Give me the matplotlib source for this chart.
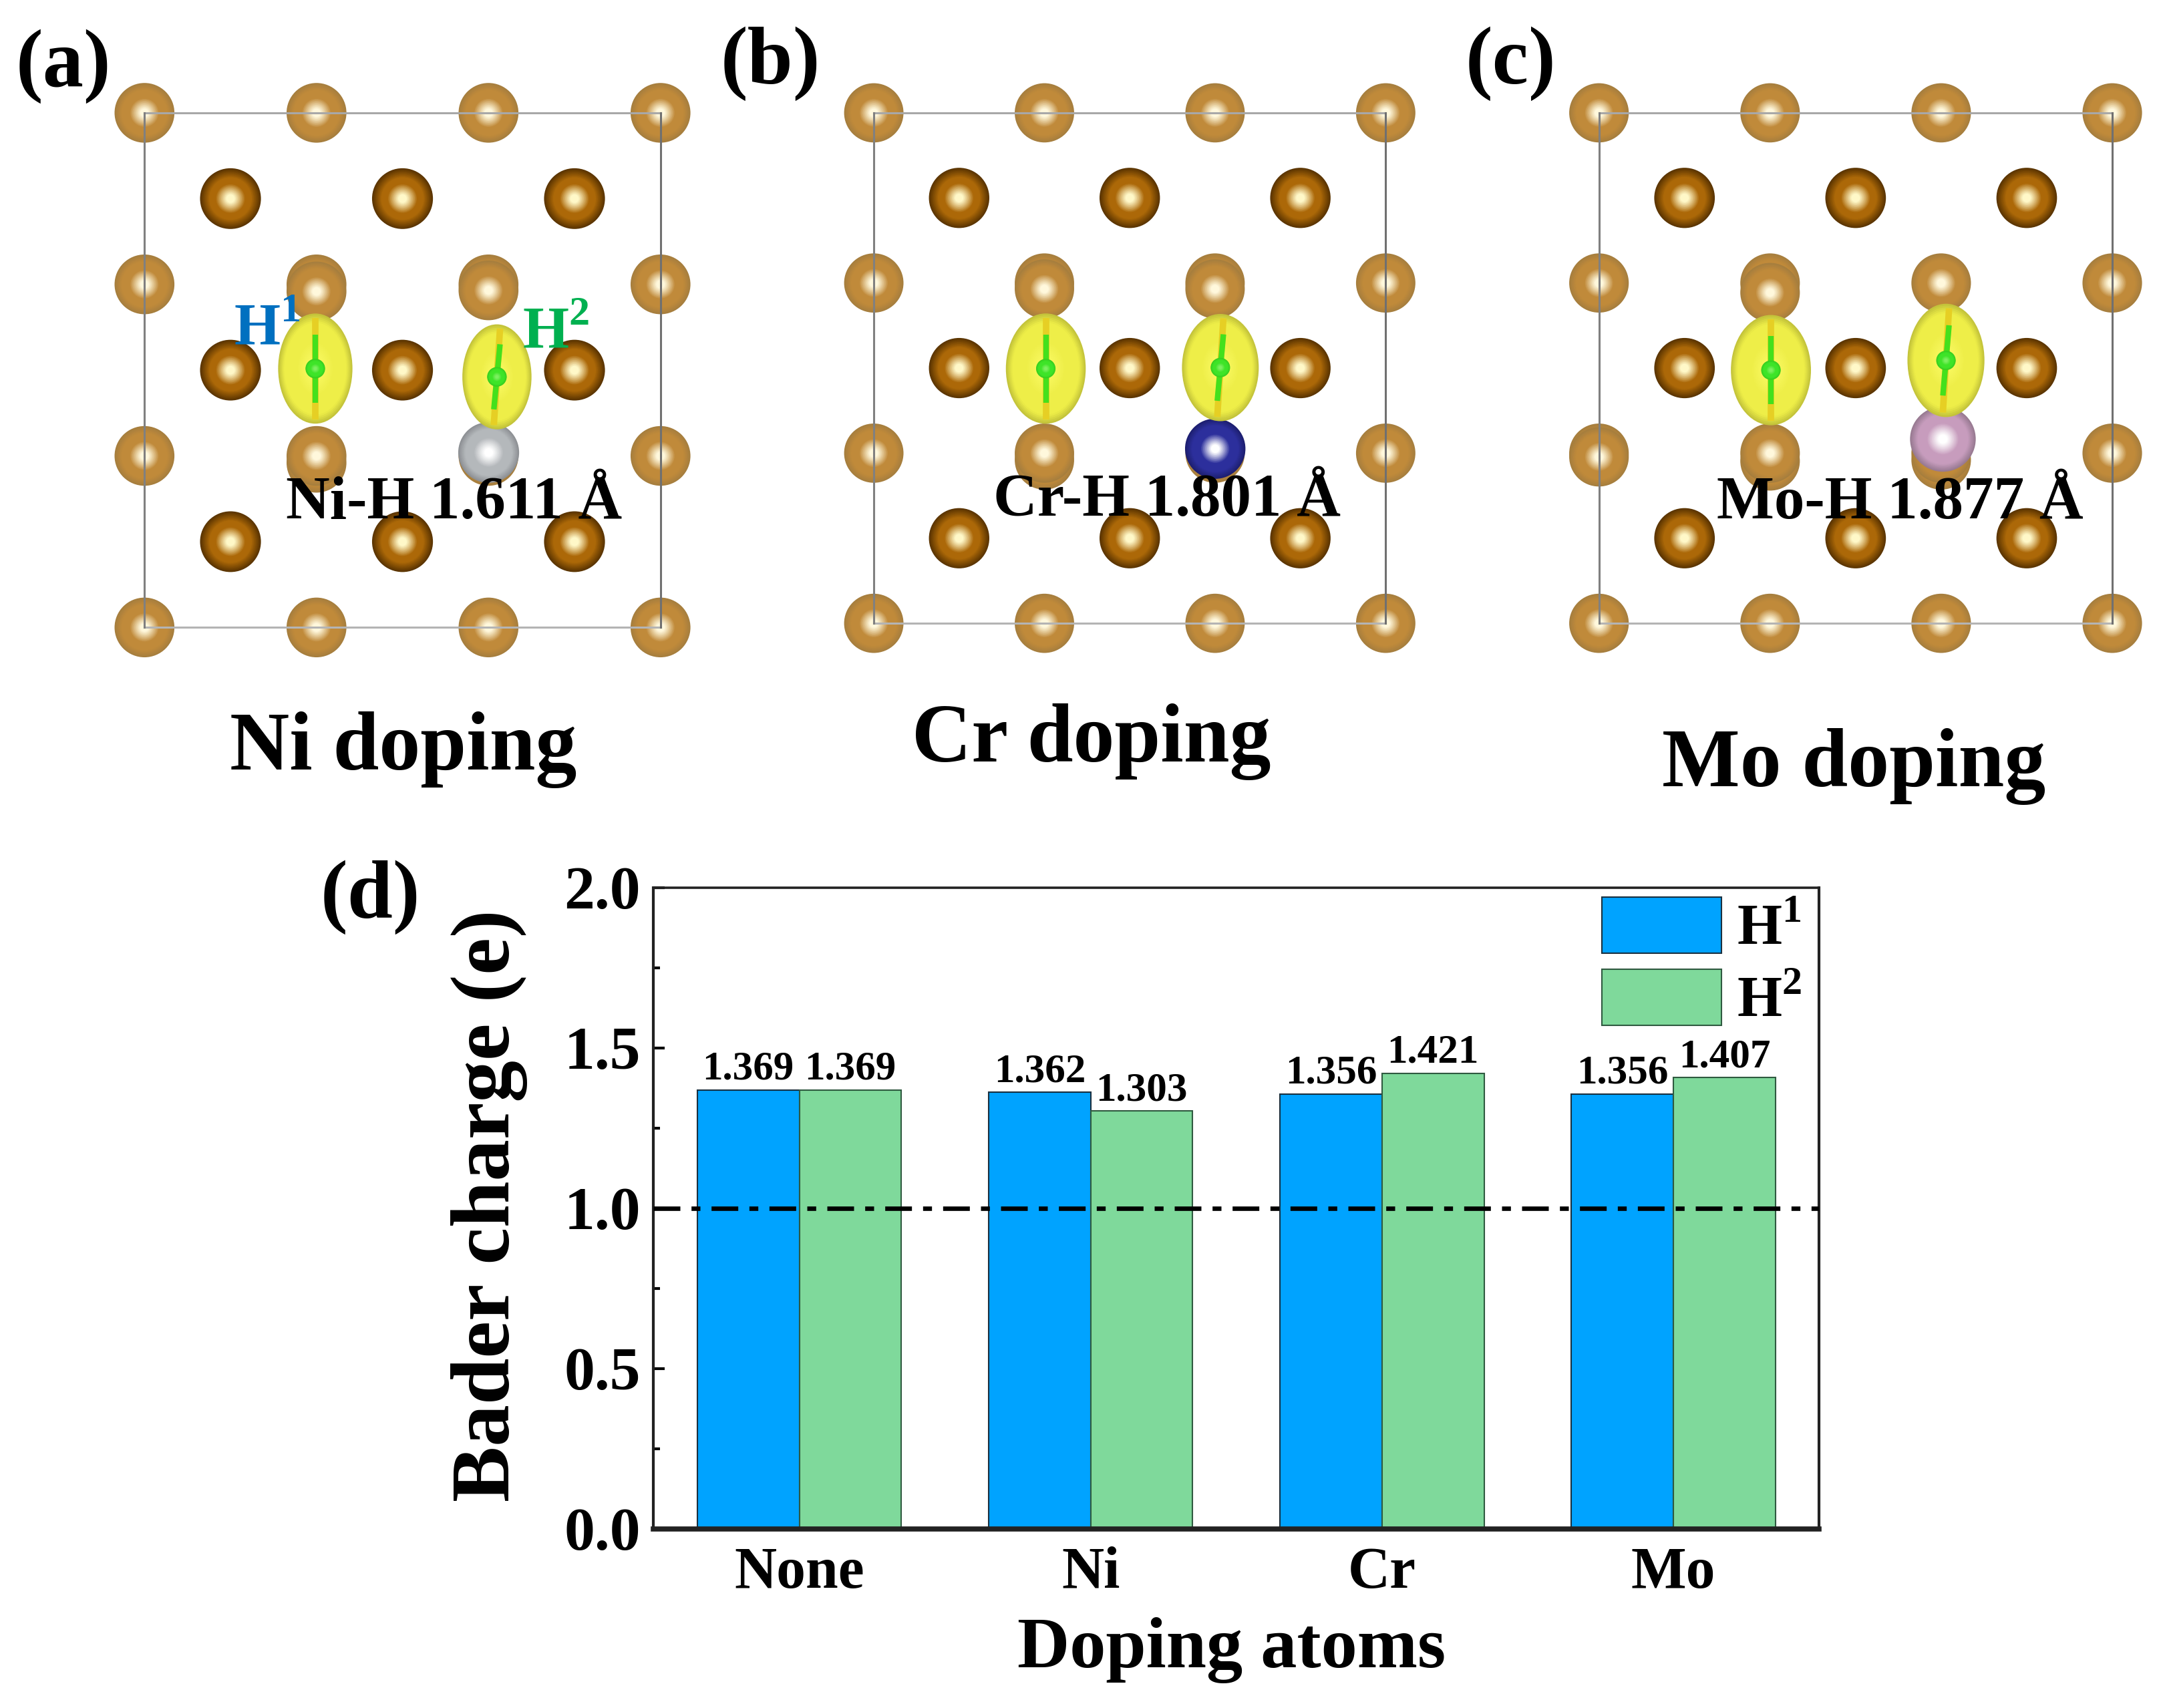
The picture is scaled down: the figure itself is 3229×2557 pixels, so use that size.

# Charge density structures and Bader charge bars
import numpy as np
import matplotlib
matplotlib.use('Agg')
import matplotlib.pyplot as plt
from matplotlib.patches import Ellipse
from matplotlib.colors import to_rgb

plt.rcParams['font.family'] = ['Liberation Serif', 'DejaVu Sans']
plt.rcParams['font.weight'] = 'bold'
plt.rcParams['axes.labelweight'] = 'bold'
plt.rcParams['mathtext.fontset'] = 'custom'
plt.rcParams['mathtext.bf'] = 'Liberation Serif:bold'
plt.rcParams['mathtext.rm'] = 'Liberation Serif'

# Data
dopants = ['None', 'Ni', 'Cr', 'Mo']
h1_charge = [1.369, 1.362, 1.356, 1.356]
h2_charge = [1.369, 1.303, 1.421, 1.407]
y_ticks = [0.0, 0.5, 1.0, 1.5, 2.0]
y_minor = [0.25, 0.75, 1.25, 1.75]

# lattice positions, fractions of the cell
light_grid = [0, 1/3, 2/3, 1]
dark_grid = [1/6, 1/2, 5/6]

panel_labels = ['(a)', '(b)', '(c)']
panel_names = ['Ni doping', 'Cr doping', 'Mo doping']
bond_labels = ['Ni-H 1.611 Å', 'Cr-H 1.801 Å', 'Mo-H 1.877 Å']
h1_lobe = [(0.331, 0.497, 0.072, 0.107), (0.336, 0.501, 0.078, 0.108), (0.335, 0.504, 0.078, 0.108)]
h2_lobe = [(0.683, 0.513, 0.067, 0.102), (0.677, 0.499, 0.075, 0.105), (0.676, 0.485, 0.075, 0.111)]
dopant_site = [(0.667, 0.660, 0.059), (0.667, 0.658, 0.059), (0.670, 0.639, 0.064)]
dopant_color = ['#b4b8bb', '#2c2f9c', '#c79cbd']
dopant_edge = ['#8d9094', '#1d1f70', '#987a92']
front_atoms = [[(1/3, 0.347), (2/3, 0.345)],
               [(1/3, 0.345), (2/3, 0.345)],
               [(1/3, 0.352), (0, 0.674)]]
back_atoms = [[(1/3, 0.680)], [(1/3, 0.680)], [(1/3, 0.682), (2/3, 0.680)]]
panel_frames = [(105, 82, 480, 456), (635, 82, 1007, 453), (1162, 82, 1535, 453)]

W, H = 3230, 2557
S = W / 1568

fig = plt.figure(figsize=(W / 100, H / 100), dpi=100, facecolor='white')


def new_axes(x0, y0, x1, y1):
    return fig.add_axes([x0 * S / W, 1 - y1 * S / H, (x1 - x0) * S / W, (y1 - y0) * S / H])


def put(x, y, s, size, **kw):
    kw.setdefault('ha', 'center')
    fig.text(x * S / W, 1 - y * S / H, s, fontsize=size, va='center', **kw)


def shaded(ax, x, y, rx, ry, edge, base, hot, z, rim=0.78, glow=0.5):
    # sphere look: stacked rings going from rim to highlight
    edge, base, hot = to_rgb(edge), to_rgb(base), to_rgb(hot)
    for t in np.linspace(1, 0.04, 30):
        if t > rim:
            c = np.interp(t, [rim, 1], [0, 1])
            col = [b + (e - b) * c for e, b in zip(edge, base)]
        elif t > glow:
            col = base
        else:
            c = np.interp(t, [0.14, glow], [0, 1]) ** 1.1
            col = [h + (b - h) * c for h, b in zip(hot, base)]
        ax.add_patch(Ellipse((x, y), 2 * rx * t, 2 * ry * t, fc=col, ec='none', zorder=z, clip_on=False))


def light(ax, x, y, z=2):
    shaded(ax, x, y, 0.058, 0.058, '#a67e3e', '#c08a3a', '#fff8dc', z)


for i in range(3):
    ax = new_axes(*panel_frames[i])
    ax.set_xlim(0, 1)
    ax.set_ylim(1, 0)
    ax.axis('off')

    for b in back_atoms[i]:
        light(ax, b[0], b[1], z=1)
    for gx in light_grid:
        for gy in light_grid:
            light(ax, gx, gy)
    for gx in dark_grid:
        for gy in dark_grid:
            shaded(ax, gx, gy, 0.059, 0.059, '#5a3400', '#ac6808', '#fff8c8', 2, rim=0.7)
    for f in front_atoms[i]:
        light(ax, f[0], f[1], z=3)

    d = dopant_site[i]
    shaded(ax, d[0], d[1], d[2], d[2], dopant_edge[i], dopant_color[i], '#ffffff', 4)

    for lobe, tilt in zip((h1_lobe[i], h2_lobe[i]), (0.0, 0.006)):
        lx, ly, rx, ry = lobe
        shaded(ax, lx, ly, rx, ry, '#c4c43a', '#eeee48', '#f8f860', 5, rim=0.85)
        ax.plot([lx + tilt, lx - tilt], [ly - ry * 0.92, ly + ry * 0.92], color='#e6cf24', lw=7,
                solid_capstyle='butt', zorder=6, clip_on=False)
        ax.plot([lx + tilt, lx - tilt], [ly - ry * 0.62, ly + ry * 0.62], color='#44e01c', lw=6,
                solid_capstyle='butt', zorder=7, clip_on=False)
        shaded(ax, lx, ly, 0.019, 0.019, '#36cc20', '#3ee428', '#7cf060', 8)

    # cell outline
    ax.plot([0, 1], [0, 0], color='#a8a8a8', lw=2.2, zorder=9, clip_on=False)
    ax.plot([0, 1], [1, 1], color='#b4b4b4', lw=2.2, zorder=9, clip_on=False)
    ax.plot([0, 0], [0, 1], color='#808080', lw=2.2, zorder=9, clip_on=False)
    ax.plot([1, 1], [0, 1], color='#707070', lw=2.2, zorder=9, clip_on=False)

# text over the structures
label_pos = [(46, 48), (560, 46), (1098, 46)]
name_pos = [(293, 545), (793, 539), (1347, 557)]
bond_pos = [(330, 366), (848, 364), (1381, 366)]
for i in range(3):
    put(label_pos[i][0], label_pos[i][1], panel_labels[i], 88)
    put(name_pos[i][0], name_pos[i][1], panel_names[i], 89)
    put(bond_pos[i][0], bond_pos[i][1], bond_labels[i], 65.5, zorder=20)
put(194, 240, r'H$^{\mathbf{1}}$', 64, color='#0070c0', zorder=20)
put(404, 242, r'H$^{\mathbf{2}}$', 64, color='#00b050', zorder=20)
put(269, 652, '(d)', 88)

# bar chart
ax = new_axes(475, 645, 1322, 1111)
x = np.arange(1, len(dopants) + 1)
width = 0.35
bars1 = ax.bar(x - width / 2, h1_charge, width, color='#00a3ff', edgecolor='#1a3040', linewidth=1.5, label=r'H$^{\mathrm{1}}$')
bars2 = ax.bar(x + width / 2, h2_charge, width, color='#7fd99b', edgecolor='#2f5a40', linewidth=1.5, label=r'H$^{\mathrm{2}}$')
for bars, vals in ((bars1, h1_charge), (bars2, h2_charge)):
    for b, v in zip(bars, vals):
        ax.text(b.get_x() + b.get_width() / 2, v + 0.006, f'{v:.3f}', ha='center', va='bottom', fontsize=44)
ax.axhline(1.0, color='black', lw=4.8, linestyle=(0, (6, 2.5, 2, 2.5)), zorder=5)

ax.set_xlim(0.5, 4.5)
ax.set_ylim(0, 2)
ax.set_xticks(x)
ax.set_xticklabels(dopants)
ax.set_yticks(y_ticks)
ax.set_yticklabels([f'{t:.1f}' for t in y_ticks])
ax.set_yticks(y_minor, minor=True)
ax.tick_params(axis='x', length=0, labelsize=63, pad=19)
ax.tick_params(axis='y', which='major', direction='in', length=12, width=3, labelsize=66, pad=14)
ax.tick_params(axis='y', which='minor', direction='in', length=7, width=3)
for name, lw in (('left', 3), ('right', 3), ('top', 2.6), ('bottom', 5.5)):
    ax.spines[name].set_linewidth(lw)
    ax.spines[name].set_color('#222222')

ax.set_xlabel('Doping atoms', fontsize=78, va='center')
ax.xaxis.set_label_coords(0.496, -0.19)
ax.set_ylabel('Bader charge (e)', fontsize=90, va='center')
ax.yaxis.set_label_coords(-0.141, 0.504)

ax.legend(loc='upper right', bbox_to_anchor=(0.985, 0.985), frameon=False, fontsize=62,
          handlelength=2.08, handleheight=1.13, labelspacing=0.2, handletextpad=0.26,
          borderpad=0, borderaxespad=0)

fig.savefig('out.png', dpi=100)
